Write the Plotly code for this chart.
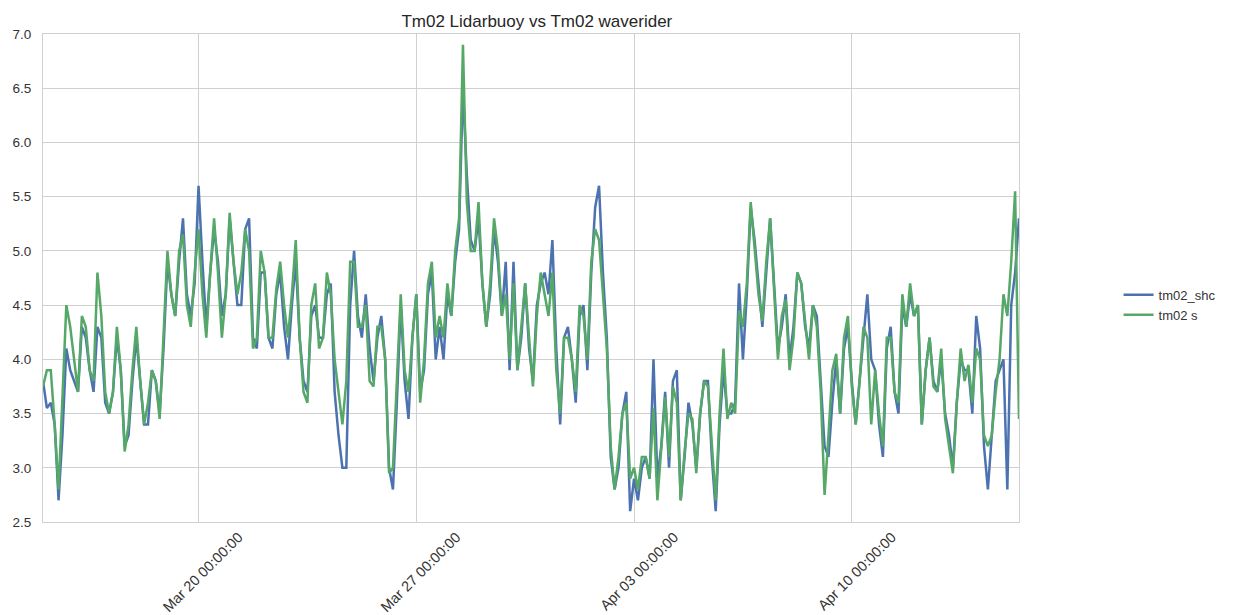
import pandas as pd
import plotly.graph_objects as go

# 3-hourly samples starting 15 March
start = "2017-03-15 00:00"
step = "3h"

tm02_shc = [
    3.8, 3.55, 3.6, 3.4, 2.7, 3.3, 4.1, 3.9, 3.8, 3.7,
    4.3, 4.2, 3.9, 3.7, 4.3, 4.2, 3.6, 3.5, 3.7, 4.2,
    3.9, 3.2, 3.3, 3.8, 4.2, 3.8, 3.4, 3.4, 3.9, 3.8,
    3.5, 4.1, 4.9, 4.6, 4.4, 4.9, 5.3, 4.6, 4.4, 4.7,
    5.6, 4.9, 4.3, 4.8, 5.2, 4.9, 4.4, 4.6, 5.3, 4.9, 4.5,
    4.5, 5.2, 5.3, 4.2, 4.1, 4.8, 4.8, 4.2, 4.1, 4.6,
    4.8, 4.3, 4.0, 4.5, 4.9, 4.2, 3.8, 3.7, 4.4, 4.5,
    4.2, 4.2, 4.6, 4.7, 3.7, 3.3, 3.0, 3.0, 4.5, 5.0,
    4.4, 4.2, 4.6, 4.1, 3.8, 4.2, 4.4, 4.0, 3.0, 2.8,
    3.6, 4.5, 3.8, 3.45, 4.2, 4.6, 3.7, 3.9, 4.6, 4.8,
    4.0, 4.3, 4.0, 4.6, 4.4, 4.9, 5.2, 6.5, 5.7, 5.1,
    5.0, 5.3, 4.7, 4.3, 4.6, 5.2, 4.9, 4.4, 4.9, 3.9,
    4.9, 3.9, 4.2, 4.7, 4.1, 3.8, 4.5, 4.7, 4.8, 4.6,
    5.1, 4.1, 3.4, 4.2, 4.3, 4.0, 3.6, 4.4, 4.5, 3.9,
    4.8, 5.4, 5.6, 4.8, 4.2, 3.1, 2.8, 3.0, 3.5, 3.7, 2.6,
    2.9, 2.7, 3.0, 3.1, 2.9, 4.0, 2.9, 3.2, 3.7, 3.0,
    3.8, 3.9, 2.7, 3.1, 3.6, 3.4, 3.0, 3.5, 3.8, 3.8,
    3.1, 2.6, 3.4, 3.9, 3.5, 3.5, 3.6, 4.7, 4.0, 4.6,
    5.4, 5.1, 4.7, 4.3, 4.8, 5.3, 4.7, 4.1, 4.3, 4.6,
    4.0, 4.3, 4.8, 4.7, 4.3, 4.1, 4.5, 4.4, 3.8, 3.2,
    3.1, 3.6, 4.0, 3.5, 4.1, 4.3, 3.8, 3.4, 3.8, 4.2,
    4.6, 4.0, 3.9, 3.4, 3.1, 4.1, 4.3, 3.7, 3.5, 4.5,
    4.3, 4.6, 4.4, 4.5, 3.4, 3.9, 4.2, 3.8, 3.7, 4.0,
    3.5, 3.3, 3.0, 3.6, 4.0, 3.9, 3.9, 3.5, 4.4, 4.1,
    3.2, 2.8, 3.3, 3.8, 3.9, 4.0, 2.8, 4.5, 4.8, 5.3,
]

tm02_s = [
    3.75, 3.9, 3.9, 3.4, 2.8, 3.6, 4.5, 4.3, 4.0, 3.7,
    4.4, 4.3, 3.9, 3.8, 4.8, 4.4, 3.7, 3.5, 3.7, 4.3,
    3.9, 3.15, 3.4, 3.9, 4.3, 3.8, 3.4, 3.6, 3.9, 3.8,
    3.45, 4.2, 5.0, 4.6, 4.4, 5.0, 5.15, 4.5, 4.3, 4.8,
    5.2, 4.6, 4.2, 4.8, 5.3, 4.8, 4.2, 4.6, 5.35, 4.9, 4.6,
    4.8, 5.2, 5.0, 4.1, 4.2, 5.0, 4.8, 4.2, 4.2, 4.65,
    4.9, 4.5, 4.2, 4.6, 5.1, 4.2, 3.7, 3.6, 4.5, 4.7,
    4.1, 4.2, 4.8, 4.6, 4.0, 3.7, 3.4, 3.8, 4.9, 4.9,
    4.3, 4.3, 4.5, 3.8, 3.75, 4.3, 4.3, 4.0, 2.95, 3.0,
    3.8, 4.6, 3.9, 3.7, 4.2, 4.6, 3.6, 4.0, 4.7, 4.9,
    4.2, 4.4, 4.2, 4.7, 4.4, 5.0, 5.3, 6.9, 5.45, 5.0,
    5.0, 5.45, 4.7, 4.3, 4.7, 5.3, 5.0, 4.4, 4.6, 4.0,
    4.7, 3.9, 4.3, 4.7, 4.2, 3.75, 4.4, 4.8, 4.6, 4.4,
    4.8, 3.9, 3.5, 4.2, 4.2, 4.0, 3.7, 4.5, 4.4, 4.0,
    4.9, 5.2, 5.1, 4.6, 4.1, 3.2, 2.8, 3.1, 3.5, 3.6, 2.9,
    3.0, 2.8, 3.1, 3.1, 2.9, 3.55, 2.7, 3.2, 3.65, 3.1,
    3.75, 3.6, 2.7, 3.15, 3.5, 3.45, 2.95, 3.5, 3.8, 3.75,
    3.2, 2.7, 3.5, 4.1, 3.45, 3.6, 3.5, 4.45, 4.3, 4.7,
    5.45, 5.0, 4.6, 4.35, 4.9, 5.3, 4.6, 4.0, 4.4, 4.55,
    3.9, 4.2, 4.8, 4.7, 4.35, 4.0, 4.5, 4.3, 3.7, 2.75,
    3.3, 3.9, 4.05, 3.5, 4.2, 4.4, 3.75, 3.4, 3.8, 4.3,
    4.2, 3.4, 3.9, 3.5, 3.2, 4.2, 4.2, 3.7, 3.6, 4.6,
    4.3, 4.7, 4.4, 4.5, 3.4, 3.9, 4.2, 3.75, 3.7, 4.1,
    3.45, 3.2, 2.95, 3.6, 4.1, 3.8, 3.95, 3.6, 4.1, 4.0,
    3.3, 3.2, 3.3, 3.7, 4.0, 4.6, 4.4, 4.9, 5.55, 3.45,
]

y_ticks = [2.5, 3.0, 3.5, 4.0, 4.5, 5.0, 5.5, 6.0, 6.5, 7.0]
x_ticks = ["2017-03-20", "2017-03-27", "2017-04-03", "2017-04-10"]

times = pd.date_range(start, periods=len(tm02_s), freq=step)

fig = go.Figure()
fig.add_trace(go.Scatter(x=times, y=tm02_shc, mode="lines", name="tm02_shc",
                         line=dict(color="#4C72B0", width=2.5)))
fig.add_trace(go.Scatter(x=times, y=tm02_s, mode="lines", name="tm02 s",
                         line=dict(color="#55A868", width=2.5)))

grid = "#d0d0d0"
fig.update_layout(
    width=1227, height=607,
    margin=dict(l=35, r=216, t=26, b=93),
    paper_bgcolor="white", plot_bgcolor="white",
    font=dict(family="Liberation Sans, Arial, sans-serif", size=13, color="#333333"),
    title=dict(text="Tm02 Lidarbuoy vs Tm02 waverider", x=0.431, xanchor="center",
               y=0.978, yanchor="middle", font=dict(size=17, color="#262626")),
    showlegend=True,
    legend=dict(x=1.102, y=0.445, xanchor="left", yanchor="middle",
                bgcolor="rgba(0,0,0,0)", font=dict(size=13, color="#333333"),
                tracegroupgap=0),
    xaxis=dict(
        range=[times[0], times[-1]], automargin=False,
        tickvals=pd.to_datetime(x_ticks), tickformat="%b %d %H:%M:%S",
        tickangle=-45, ticklabelshift=40, tickfont=dict(size=14.5),
        showgrid=True, gridcolor=grid, gridwidth=1,
        showline=True, linecolor=grid, mirror=True, ticks="", zeroline=False,
    ),
    yaxis=dict(
        range=[2.5, 7.0], tickvals=y_ticks, tickformat=".1f", automargin=False,
        tickfont=dict(size=13.5), ticklabelstandoff=8,
        showgrid=True, gridcolor=grid, gridwidth=1,
        showline=True, linecolor=grid, mirror=True, ticks="", zeroline=False,
    ),
)

fig.write_html("out.html")
